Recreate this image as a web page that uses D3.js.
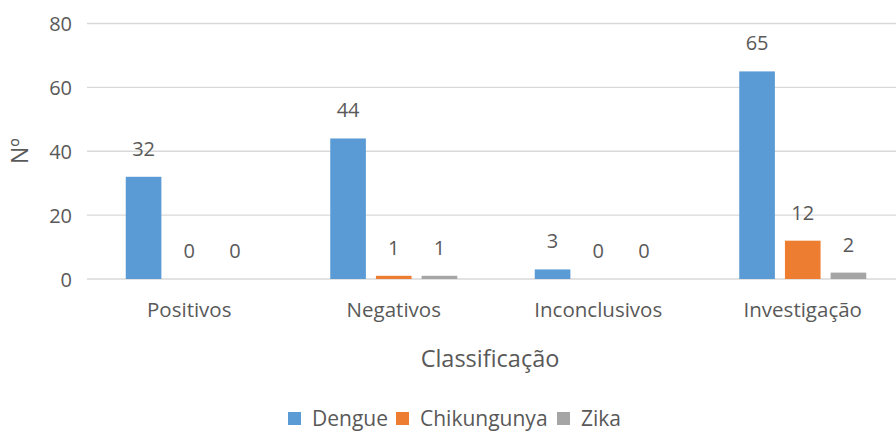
<!DOCTYPE html>
<html><head><meta charset="utf-8">
<script src="https://cdn.jsdelivr.net/npm/d3@7"></script>
<style>body{margin:0;background:#fff}svg{display:block}text{font-family:"Open Sans",sans-serif;fill:#595959}</style>
</head><body><svg id="c" width="896" height="432"></svg>
<script>
const categories = ["Positivos","Negativos","Inconclusivos","Investigação"];
const seriesNames = ["Dengue","Chikungunya","Zika"];
const dengue = [32,44,3,65];
const chikungunya = [0,1,0,12];
const zika = [0,1,0,2];
const yTicks = [0,20,40,60,80];
const colors = ["#5B9BD5","#ED7D31","#A5A5A5"];
const values = [dengue, chikungunya, zika];

const svg = d3.select("#c");
const x0 = d3.scaleBand().domain(categories).range([87,905]);
const x1 = d3.scaleBand().domain(seriesNames).range([0,127]).paddingInner(0.22);
const y = d3.scaleLinear().domain([0,80]).range([279,23.5]);
const groupOff = (x0.bandwidth()-127)/2;

// gridlines
svg.append("g").selectAll("line").data(yTicks).join("line")
  .attr("x1",87).attr("x2",896).attr("y1",d=>y(d)).attr("y2",d=>y(d))
  .attr("stroke","#D9D9D9").attr("stroke-width",1.3);

// y tick labels
const yAxis = d3.axisLeft(y).tickValues(yTicks).tickSize(0).tickPadding(0);
const gy = svg.append("g").attr("transform","translate(72,0)").call(yAxis);
gy.select(".domain").remove();
gy.selectAll("text").style("font-size","20px").attr("fill","#595959").attr("font-family","Open Sans").attr("dy","0.36em");

// bars
seriesNames.forEach((s,si)=>{
  const g = svg.append("g");
  g.selectAll("rect").data(categories).join("rect")
    .attr("x",c=>x0(c)+groupOff+x1(s))
    .attr("width",x1.bandwidth())
    .attr("y",(c,i)=>y(values[si][i]))
    .attr("height",(c,i)=>y(0)-y(values[si][i]))
    .attr("fill",colors[si]);
  g.selectAll("text").data(categories).join("text")
    .attr("x",c=>x0(c)+groupOff+x1(s)+x1.bandwidth()/2)
    .attr("y",(c,i)=>y(values[si][i])-21)
    .attr("text-anchor","middle")
    .style("font-size","20px")
    .text((c,i)=>values[si][i]);
});

// x category labels
const xAxis = d3.axisBottom(x0).tickSize(0).tickPadding(0);
const gx = svg.append("g").attr("transform","translate(0,302)").call(xAxis);
gx.select(".domain").remove();
gx.selectAll("text").style("font-size","20.5px").attr("fill","#595959").attr("font-family","Open Sans").attr("dy","0.71em");

// axis titles
svg.append("text").attr("x",490).attr("y",367).attr("text-anchor","middle").style("font-size","23.5px").text("Classificação");
svg.append("text").attr("transform","translate(28,151) rotate(-90)").attr("text-anchor","middle").style("font-size","23px").text("Nº");

// legend
const legendX = [288,396,557];
const lg = svg.append("g");
seriesNames.forEach((s,i)=>{
  lg.append("rect").attr("x",legendX[i]).attr("y",412).attr("width",13).attr("height",13).attr("fill",colors[i]);
  lg.append("text").attr("x",legendX[i]+24).attr("y",426).style("font-size","21px").text(s);
});
</script></body></html>
